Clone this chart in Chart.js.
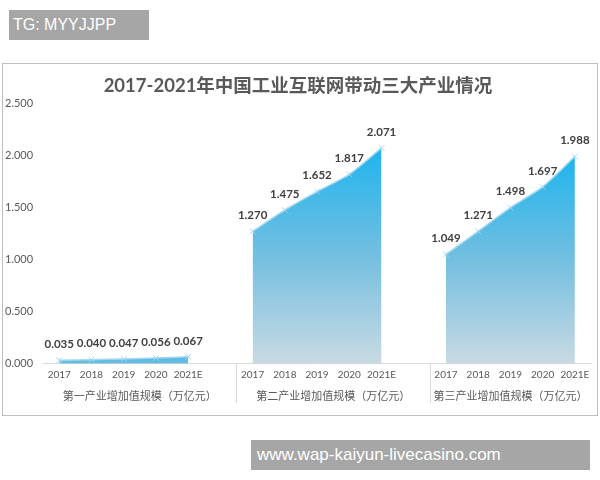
<!DOCTYPE html>
<html>
<head>
<meta charset="utf-8">
<script src="https://cdn.jsdelivr.net/npm/chart.js@4"></script>
<style>
  body { margin: 0; background: #fff; width: 600px; height: 480px; position: relative; overflow: hidden; }
  #box { position: absolute; left: 2px; top: 63px; width: 594px; height: 351px; border: 1px solid #bfbfbf; }
  .tag { position: absolute; background: #a6a6a6; color: #fff; font-family: "Liberation Sans", Arial, sans-serif; }
  #tg { left: 9px; top: 10px; width: 140px; height: 30px; line-height: 30px; font-size: 16px; padding-left: 4px; box-sizing: border-box; }
  #url { left: 251px; top: 440px; width: 339px; height: 30px; line-height: 30px; font-size: 17px; padding-left: 6px; box-sizing: border-box; }
</style>
</head>
<body>
<div id="tg" class="tag">TG: MYYJJPP</div>
<div id="box"><canvas id="industryChart" width="594" height="351"></canvas></div>
<div id="url" class="tag">www.wap-kaiyun-livecasino.com</div>
<script>
const years = ["2017", "2018", "2019", "2020", "2021E"]
const groupNames = ["第一产业增加值规模（万亿元）", "第二产业增加值规模（万亿元）", "第三产业增加值规模（万亿元）"]
const primary = [0.035, 0.040, 0.047, 0.056, 0.067]
const secondary = [1.270, 1.475, 1.652, 1.817, 2.071]
const tertiary = [1.049, 1.271, 1.498, 1.697, 1.988]
const yMax = 2.5
const yStep = 0.5

const font = "Lato, 'Noto Sans CJK SC', sans-serif"
const cjk = "'Noto Sans CJK SC', sans-serif"

// 17 slots: 5 years, blank, 5 years, blank, 5 years
let labels = [...years, "", ...years, "", ...years]
function padSeries(values, start) {
    let arr = new Array(labels.length).fill(null)
    values.forEach((v, i) => { arr[start + i] = v })
    return arr
}
const series = [padSeries(primary, 0), padSeries(secondary, 6), padSeries(tertiary, 12)]

function areaFill(context) {
    const chart = context.chart
    const y = chart.scales.y
    if (!chart.chartArea || !y) return "#5ab4e0"
    const vals = series[context.datasetIndex].filter(v => v !== null)
    const top = y.getPixelForValue(Math.max(...vals))
    const bottom = y.getPixelForValue(0)
    const g = chart.ctx.createLinearGradient(0, top, 0, bottom)
    if (context.datasetIndex === 0) {
        g.addColorStop(0, "#4fb6e6")
        g.addColorStop(1, "#6fbde0")
    } else {
        g.addColorStop(0, "#1fb4ee")
        g.addColorStop(0.5, "#74bfe0")
        g.addColorStop(1, "#c9dae3")
    }
    return g
}

const valueLabels = {
    id: "valueLabels",
    afterDatasetsDraw(chart) {
        const ctx = chart.ctx
        ctx.save()
        ctx.font = "bold 11.5px " + font
        ctx.fillStyle = "#404040"
        ctx.textAlign = "center"
        ctx.textBaseline = "middle"
        chart.data.datasets.forEach((ds, i) => {
            chart.getDatasetMeta(i).data.forEach((pt, j) => {
                if (ds.data[j] === null) return
                ctx.fillText(ds.data[j].toFixed(3), pt.x, pt.y - 16)
            })
        })
        ctx.restore()
    }
}

// vertical separators between the three groups
const groupLines = {
    id: "groupLines",
    afterDraw(chart) {
        const x2 = chart.scales.x2
        const ctx = chart.ctx
        ctx.save()
        ctx.strokeStyle = "#d9d9d9"
        ctx.lineWidth = 1
        ;[5.5, 11.5].forEach(v => {
            const px = Math.round(x2.getPixelForValue(v)) + 0.5
            ctx.beginPath()
            ctx.moveTo(px, chart.chartArea.bottom)
            ctx.lineTo(px, x2.bottom - 2)
            ctx.stroke()
        })
        ctx.restore()
    }
}

const ctx = document.getElementById("industryChart").getContext("2d")
let myChart = new Chart(ctx, {
    type: "line",
    data: {
        labels: labels,
        datasets: series.map((data, i) => ({
            label: groupNames[i],
            data: data,
            fill: "origin",
            backgroundColor: areaFill,
            borderColor: "#a3d8f0",
            borderWidth: 1.5,
            tension: 0.25,
            pointStyle: "crossRot",
            pointRadius: 4,
            pointBorderColor: "#a3d8f0",
            pointBorderWidth: 1,
            spanGaps: false,
        }))
    },
    options: {
        responsive: false,
        animation: false,
        layout: { padding: { left: 2, right: 6, bottom: 10 } },
        plugins: {
            legend: { display: false },
            tooltip: { enabled: false },
            title: {
                display: true,
                text: "2017-2021年中国工业互联网带动三大产业情况",
                color: "#595959",
                font: { size: 18.5, weight: "bold", family: font },
                padding: { top: 11, bottom: 6 },
            },
        },
        scales: {
            x: {
                offset: true,
                grid: { display: false, drawTicks: false },
                border: { color: "#d9d9d9" },
                ticks: { color: "#595959", font: { size: 10, family: font }, autoSkip: false, maxRotation: 0, padding: 5 },
            },
            x2: {
                type: "linear",
                position: "bottom",
                min: -0.5,
                max: 16.5,
                grid: { display: false, drawTicks: false },
                border: { display: false },
                afterBuildTicks(axis) {
                    axis.ticks = [{ value: 2.5 }, { value: 8.5 }, { value: 14 }]
                },
                afterFit(scale) {
                    scale.paddingLeft = 0
                    scale.paddingRight = 0
                },
                ticks: {
                    color: "#595959",
                    font: { size: 11, family: cjk },
                    padding: 3,
                    maxRotation: 0,
                    callback: (v, i) => groupNames[i],
                },
            },
            y: {
                min: 0,
                max: yMax,
                grid: { display: false, drawTicks: false },
                border: { display: false },
                ticks: {
                    stepSize: yStep,
                    color: "#595959",
                    font: { size: 11, family: font },
                    crossAlign: "far",
                    padding: 5,
                    callback: v => v.toFixed(3),
                },
            },
        },
    },
    plugins: [valueLabels, groupLines],
})
</script>
</body>
</html>
